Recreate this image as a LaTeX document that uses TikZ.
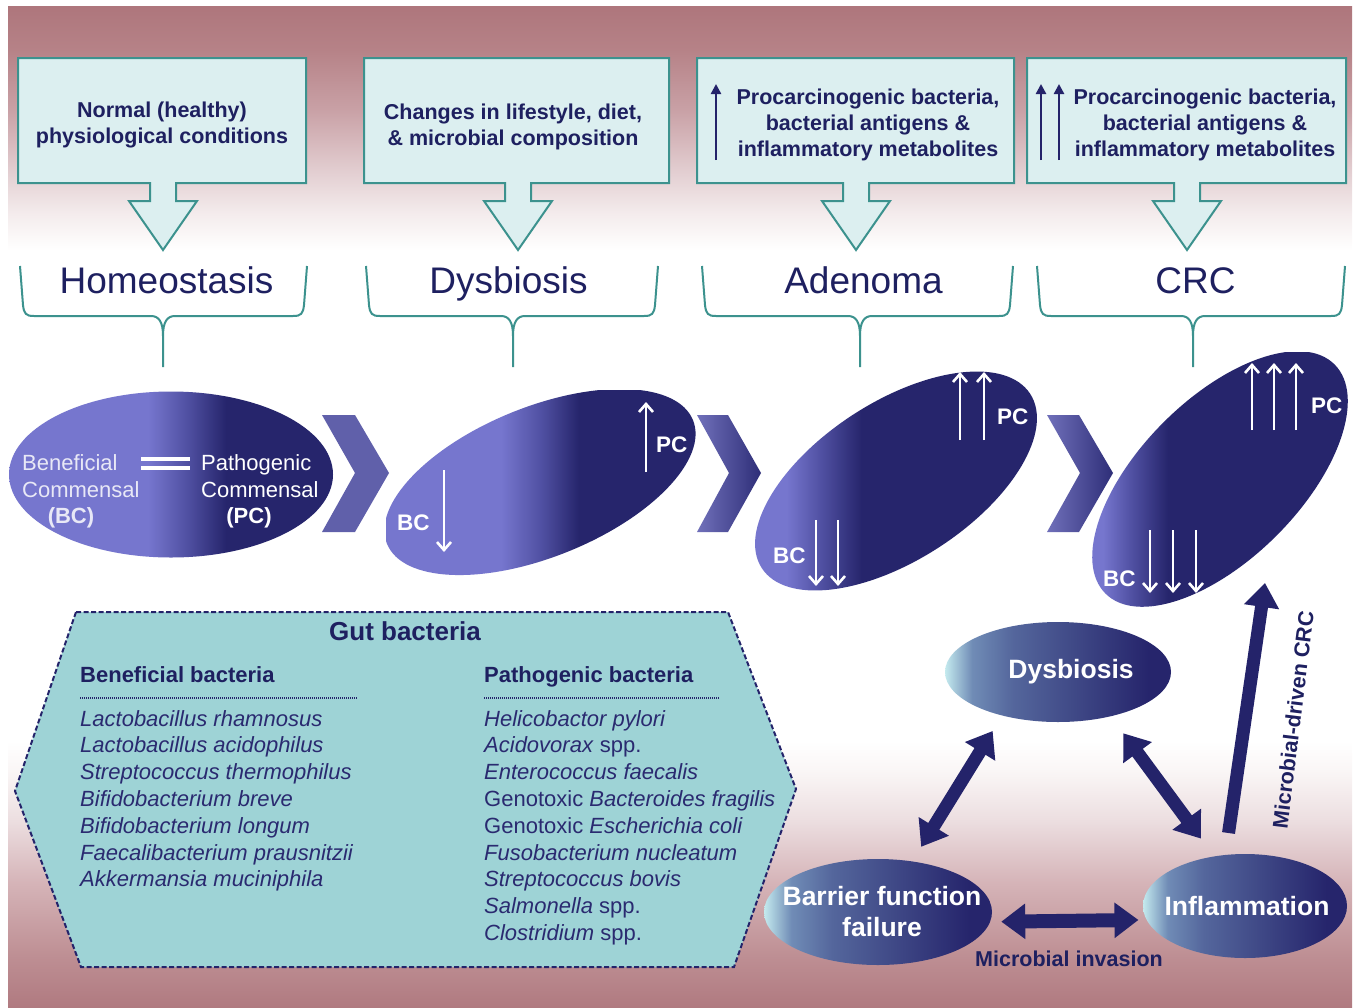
\documentclass[tikz,border=0pt]{standalone}
\usepackage{fontspec}
\setmainfont{Liberation Sans}
\usetikzlibrary{arrows.meta,shapes.geometric}

% palette
\definecolor{washA}{RGB}{176,122,128}
\definecolor{washB}{RGB}{190,143,148}
\definecolor{washC}{RGB}{214,181,185}
\definecolor{washD}{RGB}{236,222,224}
\definecolor{washE}{RGB}{250,246,246}
\definecolor{washF}{RGB}{244,236,237}
\definecolor{washG}{RGB}{226,205,208}
\definecolor{washH}{RGB}{201,161,166}
\definecolor{washI}{RGB}{182,130,135}
\definecolor{washJ}{RGB}{174,118,124}
\definecolor{navy}{RGB}{36,35,106}
\definecolor{navytext}{RGB}{30,32,96}
\definecolor{listnavy}{RGB}{42,42,112}
\definecolor{lilac}{RGB}{118,118,206}
\definecolor{midviolet}{RGB}{80,80,162}
\definecolor{deep}{RGB}{38,37,108}
\definecolor{tealline}{RGB}{60,146,142}
\definecolor{boxfill}{RGB}{220,239,240}
\definecolor{hexfill}{RGB}{158,211,214}
\definecolor{ice}{RGB}{196,234,238}
\definecolor{steelL}{RGB}{112,140,182}
\definecolor{steel}{RGB}{84,102,156}
\definecolor{chevL}{RGB}{112,112,186}
\definecolor{chevR}{RGB}{46,46,120}
\definecolor{chevflat}{RGB}{96,96,170}
\definecolor{softwhite}{RGB}{232,232,246}

% page background: mauve at top and bottom, white band in between
\pgfdeclareverticalshading{pagewash}{100bp}{color(0bp)=(washA); color(25bp)=(washA);
  color(27.6bp)=(washB); color(31.3bp)=(washC); color(34.3bp)=(washD); color(36.8bp)=(washE);
  color(38.3bp)=(white); color(62.8bp)=(white); color(64.6bp)=(washF); color(66.8bp)=(washG);
  color(69.8bp)=(washH); color(72.8bp)=(washI); color(75bp)=(washJ); color(100bp)=(washJ)}
% microbiota ovals: lilac fading into deep navy
\pgfdeclarehorizontalshading{ovalone}{100bp}{color(0bp)=(lilac); color(46.5bp)=(lilac);
  color(52.5bp)=(midviolet); color(58.5bp)=(deep); color(100bp)=(deep)}
\pgfdeclarehorizontalshading{ovaltwo}{100bp}{color(0bp)=(lilac); color(43.5bp)=(lilac);
  color(50bp)=(midviolet); color(56bp)=(deep); color(100bp)=(deep)}
\pgfdeclarehorizontalshading{ovalthree}{100bp}{color(0bp)=(lilac); color(31bp)=(lilac);
  color(37bp)=(midviolet); color(44bp)=(deep); color(100bp)=(deep)}
\pgfdeclarehorizontalshading{ovalfour}{100bp}{color(0bp)=(lilac); color(27.5bp)=(lilac);
  color(33bp)=(midviolet); color(40bp)=(deep); color(100bp)=(deep)}
\pgfdeclarehorizontalshading{chevshade}{100bp}{color(0bp)=(chevL); color(25bp)=(chevL);
  color(75bp)=(chevR); color(100bp)=(chevR)}
% cycle ovals: icy left rim into navy
\pgfdeclarehorizontalshading{cycshade}{100bp}{color(0bp)=(ice); color(25bp)=(ice);
  color(31bp)=(steelL); color(40bp)=(steel); color(70bp)=(deep); color(100bp)=(deep)}

\begin{document}
\begin{tikzpicture}[x=1pt,y=-1pt,
  callout/.style={draw=tealline, fill=boxfill, line width=2pt, line join=miter},
  boxtext/.style={font=\fontsize{21.5}{26}\selectfont\bfseries, text=navytext, align=center, inner sep=0pt},
  bracestyle/.style={draw=tealline, line width=2pt},
  stage/.style={font=\fontsize{37}{40}\selectfont, text=navytext, anchor=base, inner sep=0pt},
  upglyph/.style={draw=navy, line width=2.4pt, -{Triangle[length=10pt,width=10pt]}},
  whiteglyph/.style={draw=white, line width=2.6pt, -{Straight Barb[length=8pt,width=14pt]}},
  ovallabel/.style={font=\fontsize{22.5}{26}\selectfont\bfseries, text=white, inner sep=0pt, anchor=base west},
  commensal/.style={font=\fontsize{22}{27}\selectfont, text=softwhite, inner sep=0pt, anchor=base west},
  hexstyle/.style={draw=navy, fill=hexfill, line width=2pt, dash pattern=on 5pt off 2.5pt},
  rule/.style={draw=navy, line width=1.3pt, dash pattern=on 1pt off 1pt},
  listhead/.style={font=\fontsize{22}{26}\selectfont\bfseries, text=navytext, inner sep=0pt, anchor=base west},
  listbody/.style={font=\fontsize{22}{26.8}\selectfont, text=listnavy, inner sep=0pt, align=left, anchor=west},
  cycshape/.style={ellipse, shade, shading=cycshade, inner sep=0pt},
  cyctext/.style={text=white, inner sep=0pt, align=center, font=\fontsize{26.5}{31}\selectfont\bfseries},
  bothways/.style={draw=navy, line width=13pt, {Triangle[length=24pt,width=34pt]}-{Triangle[length=24pt,width=34pt]}},
  oneway/.style={draw=navy, line width=13pt, -{Triangle[length=24pt,width=34pt]}},
  navylabel/.style={font=\fontsize{21.5}{24}\selectfont\bfseries, text=navytext, inner sep=0pt}
]
\useasboundingbox (0,0) rectangle (1359,1007);
\shade[shading=pagewash] (8,6) rectangle (1352,1007);

% ---- condition boxes with their downward callout arrows
\foreach \L/\R/\c in {18/306/163, 364/669/518, 697/1014/856, 1027/1346/1187}
  \filldraw[callout] (\L,58) -- (\R,58) -- (\R,183) -- (\c+13,183) -- (\c+13,201) -- (\c+34,201)
    -- (\c,250) -- (\c-34,201) -- (\c-13,201) -- (\c-13,183) -- (\L,183) -- cycle;

\node[boxtext] (normal) at (162,125.4) {Normal (healthy)\\physiological conditions};
\node[boxtext] (lifestyle) at (513,127.4) {Changes in lifestyle, diet,\\\& microbial composition};
\node[boxtext] (procarcA) at (868,125.4) {Procarcinogenic bacteria,\\bacterial antigens \&\\inflammatory metabolites};
\node[boxtext] (procarcB) at (1205,125.4) {Procarcinogenic bacteria,\\bacterial antigens \&\\inflammatory metabolites};
\draw[upglyph] (716,160) -- (716,84);
\draw[upglyph] (1041,160) -- (1041,84);
\draw[upglyph] (1059,160) -- (1059,84);

% ---- stage names and their braces
\foreach \L/\R/\c in {20/307/163, 366/658/513, 702/1013/860, 1037/1345/1193}
  \draw[bracestyle] (\L,266) -- (\L+3,305) .. controls (\L+4,314) and (\L+6,316) .. (\L+14,316)
    -- (\c-12,316) .. controls (\c-4,316) and (\c,322) .. (\c,336) -- (\c,367)
    (\c,336) .. controls (\c,322) and (\c+4,316) .. (\c+12,316)
    -- (\R-14,316) .. controls (\R-6,316) and (\R-4,314) .. (\R-3,305) -- (\R,266);

\node[stage] (homeostasis) at (166.5,293) {Homeostasis};
\node[stage] (dysbiosis) at (508.5,293) {Dysbiosis};
\node[stage] (adenoma) at (863.5,293) {Adenoma};
\node[stage] (crc) at (1195.5,293) {CRC};

% ---- microbiota ovals
\begin{scope}
  \clip (171,474.5) ellipse [x radius=162, y radius=83];
  \shade[shading=ovalone] (9,391) rectangle (333,558);
\end{scope}
\begin{scope}
  \clip[rotate around={22:(540,482)}] (540,482) ellipse [x radius=165, y radius=75];
  \shade[shading=ovaltwo] (386,390) rectangle (697,575);
\end{scope}
\begin{scope}
  \clip[rotate around={33:(896,481)}] (896,481) ellipse [x radius=160, y radius=79];
  \shade[shading=ovalthree] (752,368) rectangle (1040,592);
\end{scope}
\begin{scope}
  \clip[rotate around={45:(1220,479)}] (1220,479) ellipse [x radius=162, y radius=80];
  \shade[shading=ovalfour] (1090,352) rectangle (1350,606);
\end{scope}

% chevrons between the ovals
\fill[chevflat] (322,415) -- (355,415) -- (389,473) -- (355,532) -- (322,532) -- (355,473) -- cycle;
\shade[shading=chevshade] (697,415) -- (728,415) -- (761,473) -- (728,532) -- (697,532) -- (729,473) -- cycle;
\shade[shading=chevshade] (1047,415) -- (1079,415) -- (1113,473) -- (1079,532) -- (1047,532) -- (1080,473) -- cycle;

% homeostasis oval contents
\node[commensal] (benA) at (22,470) {Beneficial};
\node[commensal] (comA) at (22,497) {Commensal};
\node[commensal, font=\fontsize{22}{27}\selectfont\bfseries, anchor=base] (bcA) at (71,523) {(BC)};
\node[commensal, text=white] (pathA) at (201,470) {Pathogenic};
\node[commensal, text=white] (comB) at (201,497) {Commensal};
\node[commensal, text=white, font=\fontsize{22}{27}\selectfont\bfseries, anchor=base] (pcA) at (249,523) {(PC)};
\fill[white] (141,456.5) rectangle (190,460.5);
\fill[white] (141,466) rectangle (190,470);

% dysbiosis oval contents
\node[ovallabel] (pcB) at (656,452) {PC};
\node[ovallabel] (bcB) at (397,530) {BC};
\draw[whiteglyph] (646,472) -- (646,402);
\draw[whiteglyph] (444,470) -- (444,552);

% adenoma oval contents
\node[ovallabel] (pcC) at (997,424) {PC};
\node[ovallabel] (bcC) at (773,563) {BC};
\foreach \x in {960,984} \draw[whiteglyph] (\x,440) -- (\x,372);
\foreach \x in {816,838} \draw[whiteglyph] (\x,520) -- (\x,586);

% CRC oval contents
\node[ovallabel] (pcD) at (1311,413) {PC};
\node[ovallabel] (bcD) at (1103,586) {BC};
\foreach \x in {1252,1274,1296} \draw[whiteglyph] (\x,430) -- (\x,363);
\foreach \x in {1150,1173,1196} \draw[whiteglyph] (\x,530) -- (\x,593);
\coordinate (crcfoot) at (1265,583);

% ---- gut bacteria panel
\filldraw[hexstyle] (76,612) -- (728,612) -- (796,789) -- (734,967) -- (81,967) -- (15,791) -- cycle;
\node[font=\fontsize{26}{30}\selectfont\bfseries, text=navytext, inner sep=0pt, anchor=base] (gut) at (405,640) {Gut bacteria};
\node[listhead] (benhead) at (80,682) {Beneficial bacteria};
\node[listhead] (pathhead) at (484,682) {Pathogenic bacteria};
\draw[rule] (80,698) -- (357,698);
\draw[rule] (484,698) -- (719,698);
\node[listbody] (benlist) at (80,800.7) {\itshape Lactobacillus rhamnosus\\\itshape Lactobacillus acidophilus\\
  \itshape Streptococcus thermophilus\\\itshape Bifidobacterium breve\\\itshape Bifidobacterium longum\\
  \itshape Faecalibacterium prausnitzii\\\itshape Akkermansia muciniphila};
\node[listbody] (pathlist) at (484,827.5) {\textit{Helicobactor pylori}\\\textit{Acidovorax} spp.\\
  \textit{Enterococcus faecalis}\\Genotoxic \textit{Bacteroides fragilis}\\Genotoxic \textit{Escherichia coli}\\
  \textit{Fusobacterium nucleatum}\\\textit{Streptococcus bovis}\\\textit{Salmonella} spp.\\\textit{Clostridium} spp.};

% ---- dysbiosis / barrier / inflammation cycle
\node[cycshape, minimum width=226pt, minimum height=100pt] (dys) at (1058,672) {};
\node[cycshape, minimum width=228pt, minimum height=106pt] (bar) at (878,912) {};
\node[cycshape, minimum width=204pt, minimum height=104pt] (inf) at (1245,906) {};
\node[cyctext] (dystext) at ([xshift=13pt]dys.center) {Dysbiosis};
\node[cyctext] (bartext) at ([xshift=4pt]bar.center) {Barrier function\\failure};
\node[cyctext] (inftext) at ([xshift=2pt]inf.center) {Inflammation};

\draw[bothways, shorten <=17pt, shorten >=18pt] (bar.56) -- (dys.218);
\draw[bothways, shorten <=21pt, shorten >=22pt] (dys.320) -- (inf.122);
\draw[bothways, line width=14pt, shorten <=11pt, shorten >=8pt] (bar.-5) -- (inf.188);
\draw[oneway, shorten <=22pt] (inf.111) -- (crcfoot);

\node[navylabel, anchor=base] (invasion) at (1069,966) {Microbial invasion};
\node[navylabel, rotate=83] (driven) at (1293,720) {Microbial-driven CRC};
\end{tikzpicture}
\end{document}
